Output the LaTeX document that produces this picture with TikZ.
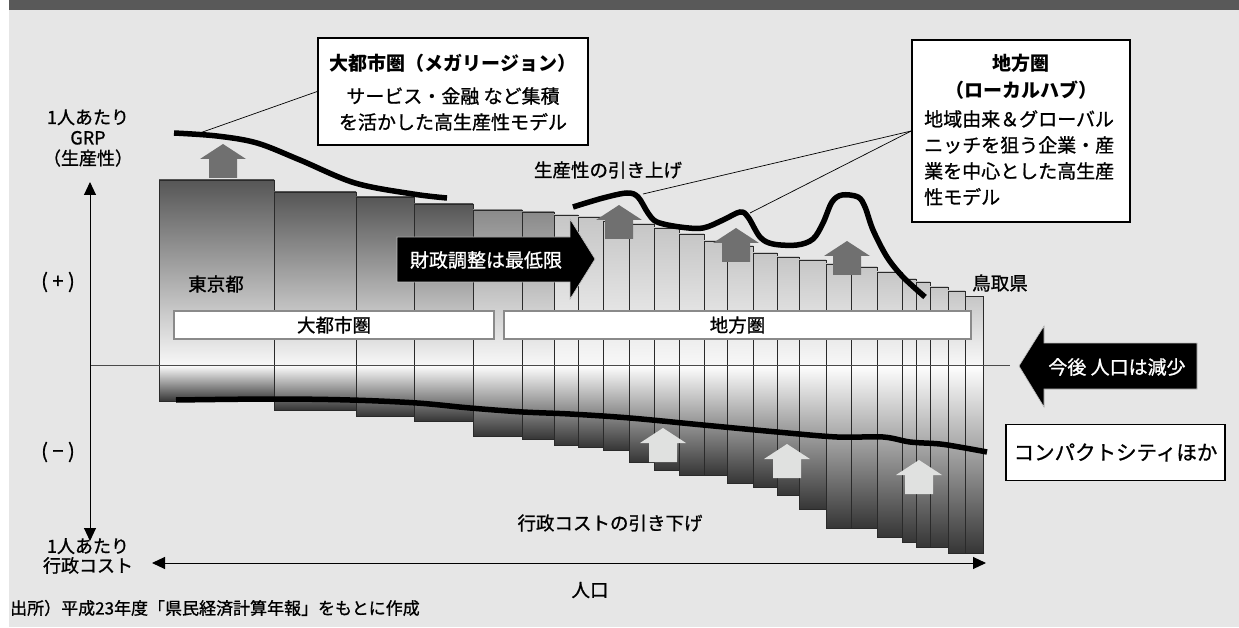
\documentclass[tikz,border=0pt]{standalone}
\usepackage{fontspec}
\setmainfont{Noto Sans CJK JP}[UprightFeatures={FakeBold=1.0}]
\usetikzlibrary{arrows.meta}
\definecolor{bgc}{HTML}{E6E6E6}
\definecolor{headc}{HTML}{595959}
\definecolor{dk}{HTML}{565656}
\definecolor{md}{HTML}{8A8A8A}
\definecolor{lt}{HTML}{C6C6C6}
\definecolor{botc}{HTML}{363636}
\definecolor{uparc}{HTML}{707070}
\definecolor{lightarc}{HTML}{E0E1E0}
\definecolor{barlinec}{HTML}{2A2A2A}
\definecolor{lblline}{HTML}{8A8A8A}
\definecolor{zeroc}{HTML}{4A4A4A}
\tikzset{
  arrowup/.pic={\path[pic actions] (0,0) -- (23,15) -- (14,15) -- (14,34) -- (-14,34) -- (-14,15) -- (-23,15) -- cycle;}
}
\begin{document}
\begin{tikzpicture}[x=1pt,y=-1pt,
  lbl/.style={inner sep=0pt, font=\fontsize{18.5}{20.5}\selectfont, align=center},
  boxtxt/.style={inner sep=0pt, font=\fontsize{19}{26}\selectfont},
  infobox/.style={draw=black, line width=1.6pt, fill=white, inner sep=0pt},
  regionbox/.style={draw=lblline, line width=1.5pt, fill=white, inner sep=0pt, minimum height=28pt, font=\fontsize{18.5}{20}\selectfont},
  trend/.style={line width=5.5pt, black},
  leader/.style={line width=0.7pt, black},
  axis/.style={line width=1pt, black, {Triangle[length=13pt,width=12pt]}-{Triangle[length=13pt,width=12pt]}},
  bararrow/.style={fill=black, draw=white!75!black, line width=0.6pt},
]
\useasboundingbox (0,0) rectangle (1239,628);
\fill[white] (0,0) rectangle (1239,628);
\fill[bgc] (9,10) rectangle (1239,627);
\fill[headc] (9,0) rectangle (1239,10);

% bars
\foreach \xl/\xr/\t/\b/\bc in {159/274/180/401/dk, 274/356/192/410/dk, 356/414/197/416/dk, 414/473/204/421/dk,
  473/522/210/436/md, 522/554/212/439/md, 554/578/215/445/lt, 578/603/217/447/lt, 603/629/221/450/lt,
  629/654/224/462/lt, 654/679/228/470/lt, 679/704/234/475/lt, 704/727/241/475/lt, 727/753/246/483/lt,
  753/777/253/487/lt, 777/799/257/495/lt, 799/826/260/509/lt, 826/851/264/528/lt, 851/877/267/528/lt,
  877/902/272/537/lt, 902/916/279/542/lt, 916/930/282/547/lt, 930/948/287/547/lt, 948/965/291/553/lt,
  965/983/296/553/lt}{
  \shade[top color=\bc, bottom color=white!97!black] (\xl,\t) rectangle (\xr,365);
  \shade[top color=white, bottom color=botc] (\xl,365) rectangle (\xr,\b);
  \draw[draw=barlinec, line width=0.9pt] (\xl,\t) rectangle (\xr,\b);
}

% zero line
\coordinate (zl) at (90,365);
\coordinate (zr) at (1010,365);
\draw[zeroc, line width=1pt] (zl) -- (zr);

% axes
\coordinate (vtop) at (90,182);
\coordinate (vbot) at (90,541);
\draw[axis] (vtop) -- (vbot);
\coordinate (hl) at (152,563);
\coordinate (hr) at (986,563);
\draw[axis] (hl) -- (hr);

% region labels
\node[regionbox, minimum width=320pt] (metro) at (334,325) {大都市圏};
\node[regionbox, minimum width=467pt] (local) at (737.5,325) {地方圏};

% up arrows
\foreach \px/\py in {223/144, 619/205, 736/228, 847/241}{
  \pic[fill=uparc] at (\px,\py) {arrowup};
}
\foreach \px/\py in {663/428, 787/444, 919/460}{
  \pic[fill=lightarc] at (\px,\py) {arrowup};
}

% trend curves
\draw[trend] plot[smooth,tension=0.55] coordinates {(174,133) (217,136) (257,143) (300,160) (355,183) (413,194) (447,198)};
\draw[trend] plot[smooth,tension=0.55] coordinates {(573,207) (603,198) (627,193) (638,197) (648,213) (657,222) (680,227) (703,228) (723,220) (740,212) (748,217) (760,237) (773,244) (797,245) (813,239) (823,223) (832,202) (842,195) (858,197) (865,207) (873,230) (887,257) (903,277) (925,297)};
\draw[trend] plot[smooth,tension=0.55] coordinates {(176,400) (274,399) (350,400) (417,403) (470,408) (523,412) (570,414) (630,418) (703,425) (777,432) (837,437) (883,437) (910,442) (940,444) (965,448) (987,452)};

% black arrows
\fill[bararrow] (397,237) -- (570,237) -- (570,219) -- (595,259) -- (570,299) -- (570,282) -- (397,282) -- cycle;
\node[lbl, text=white, font=\fontsize{19}{20}\selectfont] (fiscal) at (486,260) {財政調整は最低限};
\fill[bararrow] (1197,343) -- (1044,343) -- (1044,326) -- (1019,366) -- (1044,407) -- (1044,389) -- (1197,389) -- cycle;
\node[lbl, text=white, font=\fontsize{19}{20}\selectfont] (popdec) at (1117,367) {今後 人口は減少};

% info boxes
\node[infobox, minimum width=270pt, minimum height=107pt] (megabox) at (453,91.5) {};
\node[boxtxt, font=\fontsize{19}{26}\selectfont\bfseries] (megatitle) at (453,63) {大都市圏（メガリージョン）};
\node[boxtxt, align=center] (megabody) at (453,109) {サービス・金融 など集積\\を活かした高生産性モデル};

\node[infobox, minimum width=218pt, minimum height=182pt] (localbox) at (1021,131) {};
\node[boxtxt, align=center, font=\fontsize{19}{27}\selectfont\bfseries] (localtitle) at (1021,76.5) {地方圏\\（ローカルハブ）};
\node[boxtxt, align=left, anchor=west] (localbody) at (924,158) {地域由来＆グローバル\\ニッチを狙う企業・産\\業を中心とした高生産\\性モデル};

\node[infobox, minimum width=219pt, minimum height=56pt, font=\fontsize{20.5}{22}\selectfont] (compactbox) at (1115.5,452.5) {コンパクトシティほか};

% leaders
\coordinate (p1) at (197,134);
\draw[leader] (megabox.west) -- (p1);
\coordinate (p2) at (643,194);
\coordinate (p3) at (750,213);
\draw[leader] (localbox.west) -- (p2);
\draw[leader] (localbox.west) -- (p3);

% labels
\node[lbl, font=\fontsize{18}{20.5}\selectfont] (grp) at (88,138) {1人あたり\\GRP\\（生産性）};
\node[lbl, font=\fontsize{20}{20}\selectfont] (plus) at (58,282) {( + )};
\node[lbl, font=\fontsize{20}{20}\selectfont] (minus) at (58,452) {( − )};
\node[lbl, font=\fontsize{18}{19.5}\selectfont] (costlbl) at (88,556) {1人あたり\\行政コスト};
\node[lbl] (tokyo) at (216,284) {東京都};
\node[lbl] (tottori) at (1000,283) {鳥取県};
\node[lbl] (produp) at (608,170) {生産性の引き上げ};
\node[lbl] (costdown) at (610,523) {行政コストの引き下げ};
\node[lbl] (pop) at (590,590) {人口};
\node[lbl, anchor=west, font=\fontsize{17}{18}\selectfont] (source) at (10,608) {出所）平成23年度「県民経済計算年報」をもとに作成};
\end{tikzpicture}
\end{document}
